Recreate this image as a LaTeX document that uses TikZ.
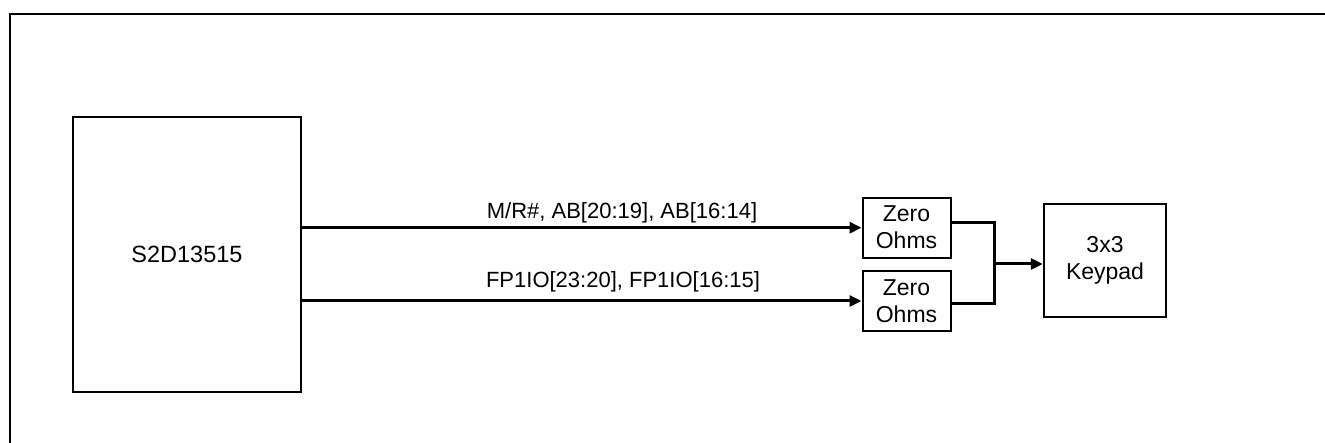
\documentclass[tikz,border=0pt]{standalone}
\usepackage{fontspec}
\setmainfont{Liberation Sans}
\usetikzlibrary{arrows.meta}
\begin{document}
\begin{tikzpicture}[x=1pt,y=-1pt,
  box/.style={draw,line width=1.5pt,minimum width=#1,inner sep=0pt,align=center,font=\fontsize{23}{27}\selectfont},
  bus/.style={line width=3pt,-{Triangle[length=12pt,width=11pt]}},
  wire/.style={line width=3pt},
  lbl/.style={font=\fontsize{22}{26.5}\selectfont,inner sep=0pt}]
\useasboundingbox (0,0) rectangle (1325,443);
\draw[line width=1.5pt] (10,443) -- (10,14) -- (1325,14);
\node[box=228pt,minimum height=275pt,font=\fontsize{23.5}{27}\selectfont] (chip) at (187,254.5) {S2D13515};
\node[box=88pt,minimum height=60pt,line width=2pt] (z1) at (906.5,227.7) {Zero\\Ohms};
\node[box=88pt,minimum height=60pt,line width=2pt] (z2) at (906.5,301) {Zero\\Ohms};
\node[box=122pt,minimum height=113pt,line width=2.5pt] (kp) at (1105,260.5) {3x3\\Keypad};
\node[lbl] (l1) at (622,213) {M/R\#, AB[20:19], AB[16:14]};
\node[lbl] (l2) at (623,282) {FP1IO[23:20], FP1IO[16:15]};
\draw[bus] (z1.west -| chip.east) -- (z1.west);
\draw[bus] (z2.west -| chip.east) -- (z2.west);
\coordinate (j1) at (994,223);
\coordinate (j2) at (994,304);
\coordinate (jm) at (994,264);
\draw[wire] (z1.east |- j1) -- (j1) -- (j2) -- (z2.east |- j2);
\draw[bus] (jm) -- (kp.west |- jm);
\end{tikzpicture}
\end{document}
